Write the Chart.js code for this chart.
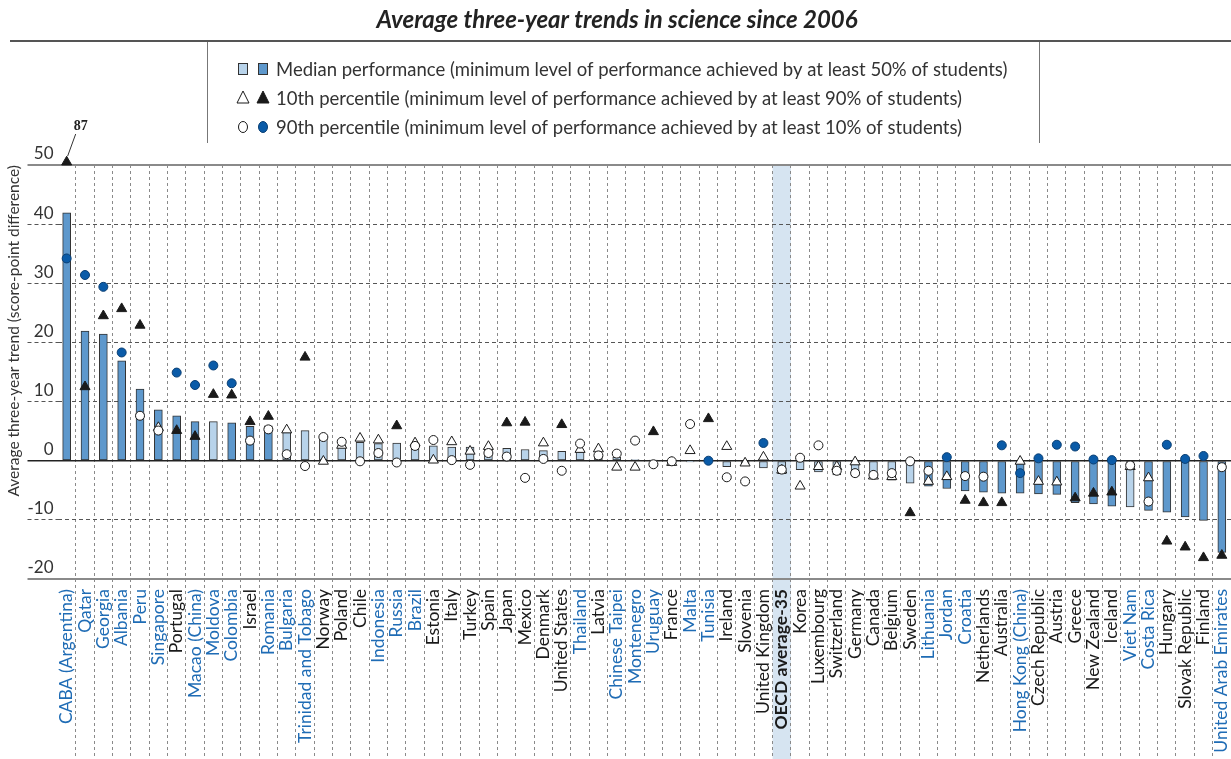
<!DOCTYPE html>
<html><head><meta charset="utf-8">
<script src="https://cdn.jsdelivr.net/npm/chart.js@4.4.1/dist/chart.umd.min.js"></script>
<style>html,body{margin:0;padding:0;background:#fff;}canvas{display:block;}</style>
</head><body>
<canvas id="c" width="1231" height="759"></canvas>
<script>
const titleText = "Average three-year trends in science since 2006";
const yAxisTitle = "Average three-year trend (score-point difference)";
const legendLabels = [
  "Median performance (minimum level of performance achieved by at least 50% of students)",
  "10th percentile (minimum level of performance achieved by at least 90% of students)",
  "90th percentile (minimum level of performance achieved by at least 10% of students)"
];
const categories = ["CABA (Argentina)","Qatar","Georgia","Albania","Peru","Singapore","Portugal","Macao (China)","Moldova","Colombia","Israel","Romania","Bulgaria","Trinidad and Tobago","Norway","Poland","Chile","Indonesia","Russia","Brazil","Estonia","Italy","Turkey","Spain","Japan","Mexico","Denmark","United States","Thailand","Latvia","Chinese Taipei","Montenegro","Uruguay","France","Malta","Tunisia","Ireland","Slovenia","United Kingdom","OECD average-35","Korea","Luxembourg","Switzerland","Germany","Canada","Belgium","Sweden","Lithuania","Jordan","Croatia","Netherlands","Australia","Hong Kong (China)","Czech Republic","Austria","Greece","New Zealand","Iceland","Viet Nam","Costa Rica","Hungary","Slovak Republic","Finland","United Arab Emirates"];
const partnerEconomies = ["CABA (Argentina)","Qatar","Georgia","Albania","Peru","Singapore","Macao (China)","Moldova","Colombia","Romania","Bulgaria","Trinidad and Tobago","Indonesia","Russia","Brazil","Thailand","Chinese Taipei","Montenegro","Uruguay","Malta","Tunisia","Lithuania","Jordan","Croatia","Hong Kong (China)","Viet Nam","Costa Rica","United Arab Emirates"];
const averageLabel = "OECD average-35";
// Median performance trend
const medianTrend = [41.9,21.9,21.4,16.9,12.1,8.6,7.6,6.6,6.6,6.4,5.8,5.9,5.1,5.1,4.2,2.6,3.1,2.9,3.0,2.0,2.5,2.3,2.3,2.1,2.1,1.9,1.7,1.6,1.5,1.0,0.6,0.2,0.1,-0.4,-0.2,0.1,-1.0,-0.6,-1.2,-2.2,-1.5,-1.9,-2.4,-2.6,-3.0,-3.3,-3.8,-4.3,-4.7,-5.1,-5.3,-5.5,-5.5,-5.6,-5.7,-7.1,-7.3,-7.7,-7.8,-8.4,-8.7,-9.5,-10.1,-15.5];
const medianSig   = [1,1,1,1,1,1,1,1,0,1,1,1,0,0,0,0,0,0,0,0,0,0,0,0,0,0,0,0,0,0,0,0,0,0,0,0,0,0,0,0,0,0,0,0,0,0,0,1,1,1,1,1,1,1,1,1,1,1,0,1,1,1,1,1];
// 10th percentile trend
const p10Trend = [87,12.5,24.5,25.7,22.9,5.6,5.1,4.1,11.2,11.1,6.6,7.5,5.2,17.5,-0.1,2.6,3.8,3.5,5.9,3.0,0.1,3.2,1.6,2.4,6.4,6.5,3.0,6.1,1.9,2.0,-1.1,-1.1,4.9,-0.3,1.7,7.1,2.4,-0.4,0.6,-1.6,-4.3,-1.0,-1.0,-0.2,-2.6,-2.7,-8.8,-3.5,-2.7,-6.7,-7.1,-7.1,-0.1,-3.5,-3.6,-6.3,-5.5,-5.3,-1.0,-2.9,-13.6,-14.6,-16.4,-16.0];
const p10Sig   = [1,1,1,1,1,0,1,1,1,1,1,1,0,1,0,0,0,0,1,0,0,0,0,0,1,1,0,1,0,0,0,0,1,0,0,1,0,0,0,0,0,0,0,0,0,0,1,0,0,1,1,1,0,0,0,1,1,1,0,0,1,1,1,1];
// 90th percentile trend
const p90Trend = [34.2,31.4,29.4,18.3,7.6,5.1,14.9,12.8,16.1,13.1,3.4,5.3,1.1,-0.9,4.0,3.2,-0.1,1.3,-0.3,2.5,3.5,0.1,-0.7,1.3,0.7,-2.9,0.3,-1.7,2.9,0.9,1.2,3.4,-0.6,-0.1,6.2,0.0,-2.8,-3.5,3.0,-1.5,0.5,2.6,-1.7,-2.1,-2.4,-2.1,-0.1,-1.7,0.6,-2.6,-2.7,2.6,-2.1,0.4,2.7,2.4,0.2,0.1,-0.8,-6.9,2.7,0.3,0.8,-1.1];
const p90Sig   = [1,1,1,1,0,0,1,1,1,1,0,0,0,0,0,0,0,0,0,0,0,0,0,0,0,0,0,0,0,0,0,0,0,0,0,1,0,0,1,0,0,0,0,0,0,0,0,0,1,0,0,1,1,1,1,1,1,1,0,0,1,1,1,0];
const yMin = -20, yMax = 50, yStep = 10;

const DARK_BAR = '#5e98cc', LIGHT_BAR = '#b8d3ea', BAR_EDGE = '#333333';
const DOT_BLUE = '#0a5ba8', BLACK = '#1a1a1a', PARTNER_BLUE = '#1f6cb5';
const FONT = 'Lato';

// off-scale values are pinned to the top edge and annotated
const p10Display = p10Trend.map(v => v > yMax ? yMax + 0.5 : v);

const decorPlugin = {
  id: 'decor',
  beforeDraw(chart) {
    const {ctx, scales: {x}, chartArea} = chart;
    const i = categories.indexOf(averageLabel);
    const w = x.getPixelForValue(1) - x.getPixelForValue(0);
    const cx = x.getPixelForValue(i);
    ctx.save();
    ctx.fillStyle = '#d6e4f1';
    ctx.fillRect(cx - w / 2, chartArea.top, w, chart.height - chartArea.top);
    ctx.restore();
  },
  afterDraw(chart) {
    const {ctx, scales: {x, y}} = chart;
    ctx.save();
    // title
    ctx.fillStyle = '#222';
    ctx.font = `italic bold 24px ${FONT}`;
    ctx.textAlign = 'center';
    ctx.textBaseline = 'middle';
    ctx.fillText(titleText, 617, 20);
    ctx.strokeStyle = '#555';
    ctx.lineWidth = 2;
    ctx.beginPath(); ctx.moveTo(10, 41); ctx.lineTo(1231, 41); ctx.stroke();
    ctx.strokeStyle = '#777';
    ctx.lineWidth = 1;
    ctx.beginPath();
    ctx.moveTo(207.5, 42); ctx.lineTo(207.5, 143);
    ctx.moveTo(1039.5, 42); ctx.lineTo(1039.5, 143);
    ctx.stroke();
    // legend
    const rows = [69, 98, 127];
    const m1 = 243, m2 = 263;
    ctx.lineWidth = 1; ctx.strokeStyle = BAR_EDGE;
    ctx.fillStyle = LIGHT_BAR; ctx.fillRect(m1 - 5, rows[0] - 6, 10, 12); ctx.strokeRect(m1 - 4.5, rows[0] - 5.5, 9, 11);
    ctx.fillStyle = DARK_BAR; ctx.fillRect(m2 - 5, rows[0] - 6, 10, 12); ctx.strokeRect(m2 - 4.5, rows[0] - 5.5, 9, 11);
    const tri = (cx, cy, fill) => {
      ctx.beginPath(); ctx.moveTo(cx, cy - 7); ctx.lineTo(cx + 6, cy + 5); ctx.lineTo(cx - 6, cy + 5); ctx.closePath();
      ctx.fillStyle = fill; ctx.fill(); ctx.strokeStyle = BLACK; ctx.stroke();
    };
    tri(m1, rows[1], '#fff'); tri(m2, rows[1], BLACK);
    const circ = (cx, cy, fill, edge) => {
      ctx.beginPath(); ctx.ellipse(cx, cy, 4.5, 5.5, 0, 0, Math.PI * 2);
      ctx.fillStyle = fill; ctx.fill(); ctx.strokeStyle = edge; ctx.stroke();
    };
    circ(m1, rows[2], '#fff', BLACK); circ(m2, rows[2], DOT_BLUE, '#0a3f73');
    ctx.fillStyle = '#333';
    ctx.font = `18.5px ${FONT}`;
    ctx.textAlign = 'left';
    ctx.textBaseline = 'middle';
    legendLabels.forEach((t, k) => ctx.fillText(t, 276, rows[k] + 1));
    // off-scale annotation
    p10Trend.forEach((v, k) => {
      if (v <= yMax) return;
      const px = x.getPixelForValue(k), py = y.getPixelForValue(p10Display[k]);
      ctx.strokeStyle = '#333'; ctx.lineWidth = 1;
      ctx.beginPath(); ctx.moveTo(px + 1, py - 6); ctx.lineTo(px + 9, py - 28); ctx.stroke();
      ctx.fillStyle = '#222';
      ctx.font = 'bold 14px "Liberation Serif"';
      ctx.textAlign = 'center'; ctx.textBaseline = 'middle';
      ctx.fillText(String(v), px + 14, py - 36);
    });
    ctx.restore();
  }
};

const yLineColor = v => (v === 0 ? '#222' : (v === yMin || v === yMax) ? '#8a8a8a' : '#555');
const yLineWidth = v => (v === 0 ? 1.5 : (v === yMin || v === yMax) ? 2 : 1);
const yLineDash = v => (v === 0 || v === yMin || v === yMax) ? [] : [4, 3];
const xLineColor = c => (c.index === 0 ? 'rgba(0,0,0,0)' : '#8a8a8a');

new Chart(document.getElementById('c'), {
  type: 'bar',
  data: {
    labels: categories,
    datasets: [
      {
        type: 'bar', label: 'Median', data: medianTrend, order: 3,
        backgroundColor: medianSig.map(s => s ? DARK_BAR : LIGHT_BAR),
        borderColor: BAR_EDGE, borderWidth: 1, barThickness: 8, borderSkipped: false
      },
      {
        type: 'line', label: '10th percentile', data: p10Display, order: 2, showLine: false, clip: false,
        pointStyle: 'triangle', pointRadius: 5.8, pointBorderWidth: 1,
        pointBackgroundColor: p10Sig.map(s => s ? BLACK : '#fff'), pointBorderColor: BLACK
      },
      {
        type: 'line', label: '90th percentile', data: p90Trend, order: 1, showLine: false, clip: false,
        pointStyle: 'circle', pointRadius: 4.5, pointBorderWidth: 1,
        pointBackgroundColor: p90Sig.map(s => s ? DOT_BLUE : '#fff'),
        pointBorderColor: p90Sig.map(s => s ? '#0a3f73' : BLACK)
      }
    ]
  },
  options: {
    responsive: false, animation: false, devicePixelRatio: 1,
    layout: { padding: { top: 165, left: 0, right: 0, bottom: 0 }, autoPadding: false },
    plugins: { legend: { display: false }, tooltip: { enabled: false } },
    scales: {
      x: {
        offset: true,
        grid: { offset: true, color: xLineColor, lineWidth: 1, drawTicks: true, tickLength: 180,
                tickColor: xLineColor, tickWidth: 1, tickBorderDash: [3, 3] },
        border: { display: false, dash: [3, 3] },
        ticks: {
          autoSkip: false, minRotation: 90, maxRotation: 90, padding: -170,
          font: c => ({ family: FONT, size: 17.5, weight: categories[c.index] === averageLabel ? 'bold' : 'normal' }),
          color: c => partnerEconomies.includes(categories[c.index]) ? PARTNER_BLUE : BLACK
        },
        afterFit: s => { s.height = 180; }
      },
      y: {
        min: yMin, max: yMax,
        ticks: { stepSize: yStep, padding: -26, labelOffset: -11, font: { family: FONT, size: 17 }, color: '#333' },
        grid: {
          color: c => yLineColor(c.tick.value), lineWidth: c => yLineWidth(c.tick.value),
          tickLength: 30, tickColor: c => yLineColor(c.tick.value), tickWidth: c => yLineWidth(c.tick.value),
          tickBorderDash: c => yLineDash(c.tick.value)
        },
        border: { display: false, dash: c => yLineDash(c.tick.value) },
        title: { display: true, text: yAxisTitle, align: 'end', color: '#333',
                 font: { family: FONT, size: 15.5 }, padding: { top: 5, bottom: 0 } },
        afterFit: s => { s.width = 57.5; }
      }
    }
  },
  plugins: [decorPlugin]
});
</script>
</body></html>
